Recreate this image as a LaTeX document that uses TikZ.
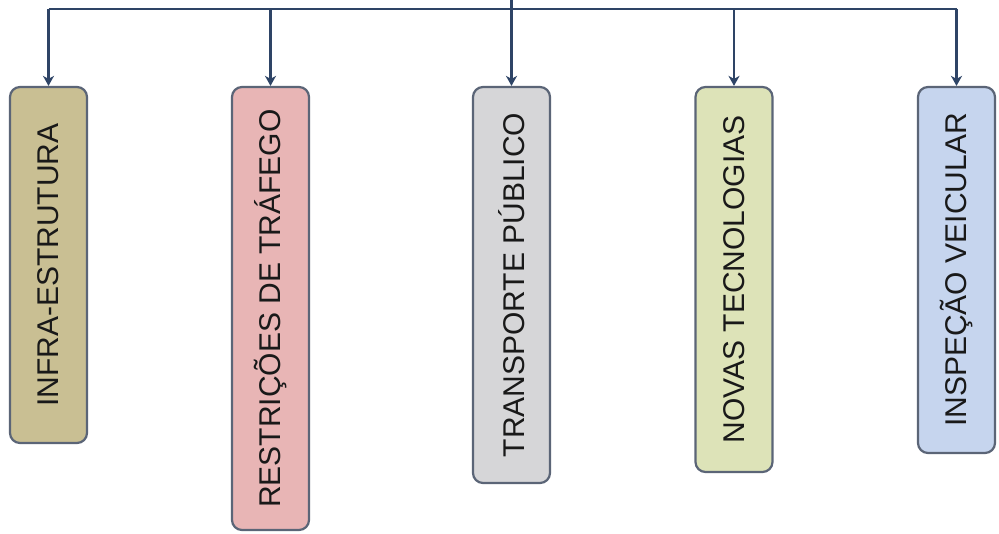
\documentclass[tikz,border=0pt]{standalone}
\usepackage{fontspec}
\setmainfont{Liberation Sans}
\usetikzlibrary{arrows.meta}
\definecolor{cTan}{HTML}{C9BF93}
\definecolor{cPink}{HTML}{E8B5B5}
\definecolor{cGray}{HTML}{D6D6D8}
\definecolor{cGreen}{HTML}{DDE3B8}
\definecolor{cBlue}{HTML}{C6D5EE}
\definecolor{cBorder}{HTML}{5B6577}
\definecolor{cLine}{HTML}{2E4466}
\begin{document}
\begin{tikzpicture}[x=1pt,y=-1pt,
  box/.style={draw=cBorder, line width=2.2pt, rounded corners=10pt, minimum width=77pt, inner sep=0pt,
    font=\fontsize{30}{30}\selectfont, text=black!90},
  conn/.style={draw=cLine, line width=2.8pt},
  arr/.style={conn, -{Stealth[length=10pt,width=11pt,inset=3pt]}}]
\useasboundingbox (0,0) rectangle (999,534);
\fill[white] (0,0) rectangle (999,534);
\node[box, fill=cTan,   minimum height=356pt] (b1) at (48.5,265)   {\rotatebox{90}{INFRA-ESTRUTURA}};
\node[box, fill=cPink,  minimum height=443pt] (b2) at (270.5,308.5) {\rotatebox{90}{RESTRIÇÕES DE TRÁFEGO}};
\node[box, fill=cGray,  minimum height=396pt] (b3) at (511.5,285)  {\rotatebox{90}{TRANSPORTE PÚBLICO}};
\node[box, fill=cGreen, minimum height=385pt] (b4) at (734,279.5)  {\rotatebox{90}{NOVAS TECNOLOGIAS}};
\node[box, fill=cBlue,  minimum height=366pt] (b5) at (956.5,270)  {\rotatebox{90}{INSPEÇÃO VEICULAR}};
\coordinate (top) at (511.5,0);
\coordinate (j) at (511.5,9);
\draw[conn] (top) -- (j);
\draw[conn, line join=miter] (b1.north |- j) -- (b5.north |- j);
\foreach \b in {b1,b2,b3,b4,b5} {
  \draw[arr] (\b.north |- j) -- (\b.north);
}
\end{tikzpicture}
\end{document}
